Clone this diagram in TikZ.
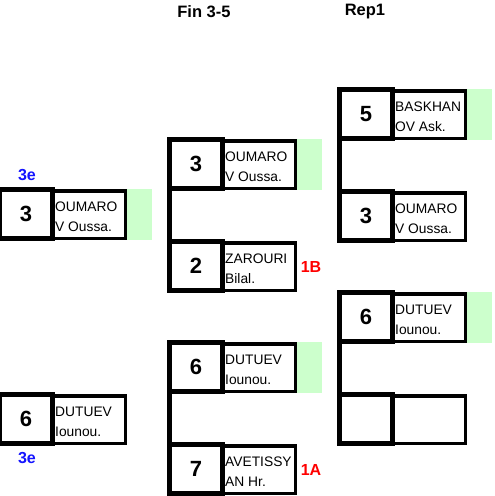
\documentclass[tikz,border=0pt]{standalone}
\usepackage{fontspec}
\setmainfont{Liberation Sans}
\definecolor{winGreen}{RGB}{204,255,204}
\definecolor{rankBlue}{RGB}{20,20,255}
\definecolor{medalRed}{RGB}{255,0,0}
\tikzset{
  numbox/.style={draw, line width=5pt, minimum width=53pt, minimum height=49pt, inner sep=0pt, outer sep=0pt, font=\fontsize{22}{22}\selectfont\bfseries},
  namebox/.style={draw, line width=3.5pt, minimum width=72.5pt, minimum height=47.5pt, inner sep=0pt, outer sep=0pt},
  nametext/.style={anchor=north west, align=left, inner sep=0pt, font=\fontsize{13.8}{20}\selectfont},
  winbox/.style={fill=winGreen, minimum width=25pt, minimum height=51pt, inner sep=0pt, outer sep=0pt},
  conn/.style={line width=5pt},
  coltitle/.style={font=\fontsize{16.5}{16.5}\selectfont\bfseries},
  rankmark/.style={font=\fontsize{16}{16}\selectfont\bfseries, text=rankBlue},
  medalmark/.style={font=\fontsize{16}{16}\selectfont\bfseries, text=medalRed}
}
% #1 name, #2 x0, #3 y0, #4 number, #5 line1, #6 line2
\newcommand\bslot[6]{%
  \node[namebox] (#1m) at ({#2+92},{#3+27.5}) {};
  \node[numbox] (#1n) at ({#2+29},{#3+27}) {#4};
  \node[nametext] (#1t) at ({#2+58},{#3+14.5}) {#5\\#6};
}
\newcommand\wbox[3]{%
  \node[winbox] (#1w) at ({#2+142.5},{#3+27.5}) {};
}
\begin{document}
\begin{tikzpicture}[x=1pt,y=-1pt]
\clip (0,0) rectangle (495,496);
\fill[white] (0,0) rectangle (495,496);
% titles
\node[coltitle] (tFin) at (204,12) {Fin 3-5};
\node[coltitle] (tRep) at (365,12) {Rep1};
% green winner markers
\wbox{L1}{-3}{187}
\wbox{M1}{167}{137}
\wbox{M3}{167}{340}
\wbox{R1}{337}{87}
\wbox{R3}{337}{290}
% left column
\bslot{L1}{-3}{187}{3}{OUMARO}{V Oussa.}
\bslot{L2}{-3}{392}{6}{DUTUEV}{Iounou.}
% middle column
\bslot{M1}{167}{137}{3}{OUMARO}{V Oussa.}
\bslot{M2}{167}{239}{2}{ZAROURI}{Bilal.}
\bslot{M3}{167}{340}{6}{DUTUEV}{Iounou.}
\bslot{M4}{167}{442}{7}{AVETISSY}{AN Hr.}
% right column
\bslot{R1}{337}{87}{5}{BASKHAN}{OV Ask.}
\bslot{R2}{337}{189}{3}{OUMARO}{V Oussa.}
\bslot{R3}{337}{290}{6}{DUTUEV}{Iounou.}
\bslot{R4}{337}{392}{}{}{}
% connectors
\draw[conn] (M1n.north west) -- (M2n.south west);
\draw[conn] (M3n.north west) -- (M4n.south west);
\draw[conn] (R1n.north west) -- (R2n.south west);
\draw[conn] (R3n.north west) -- (R4n.south west);
% labels
\node[rankmark] (rk1) at (27,175) {3e};
\node[rankmark] (rk2) at (27,458) {3e};
\node[medalmark] (md1) at (311,267) {1B};
\node[medalmark] (md2) at (311,470) {1A};
\end{tikzpicture}
\end{document}
